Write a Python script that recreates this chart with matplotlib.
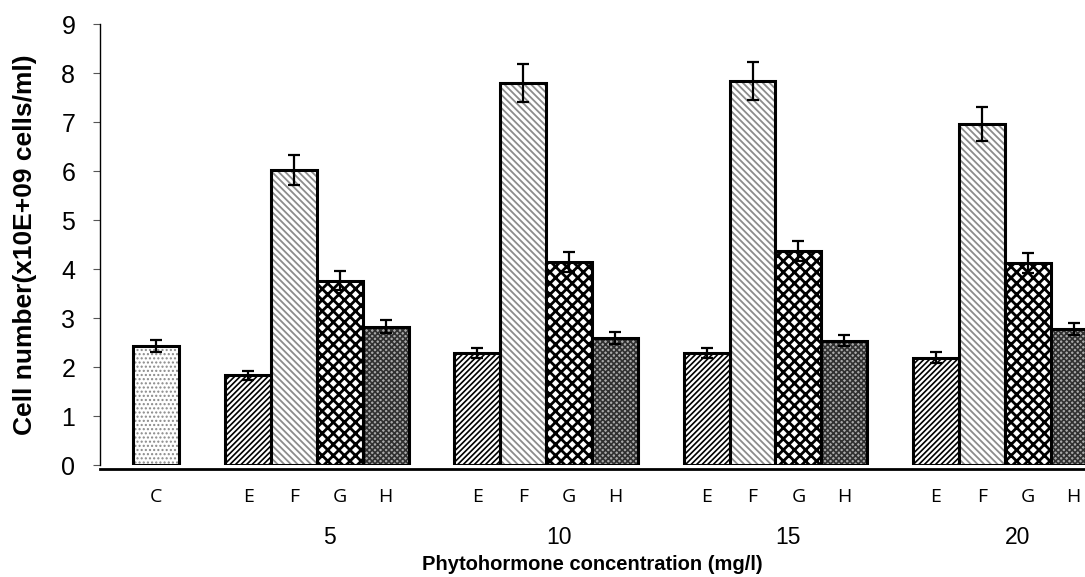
import matplotlib
matplotlib.use("Agg")
import matplotlib.pyplot as plt

# control plus four treatments (E-H) at each concentration
control_value = 2.43
control_err = 0.12

concentrations = ["5", "10", "15", "20"]
treatments = ["E", "F", "G", "H"]

# values[treatment] -> one value per concentration
values = {
    "E": [1.84, 2.29, 2.29, 2.20],
    "F": [6.03, 7.80, 7.84, 6.96],
    "G": [3.77, 4.15, 4.37, 4.13],
    "H": [2.83, 2.60, 2.54, 2.78],
}
errors = {
    "E": [0.09, 0.11, 0.11, 0.11],
    "F": [0.30, 0.39, 0.39, 0.35],
    "G": [0.19, 0.20, 0.21, 0.20],
    "H": [0.14, 0.12, 0.11, 0.13],
}

# fill style per series: (hatch, hatch colour, face colour, hatch width)
styles = {
    "C": ("....", "#8a8a8a", "white", 1.0),
    "E": ("//////", "black", "white", 1.2),
    "F": ("\\\\\\\\\\", "#8c8c8c", "white", 1.3),
    "G": ("xxx", "black", "white", 2.0),
    "H": ("xxxxxx", "#303030", "#a8a8a8", 1.2),
}

plt.rcParams["font.family"] = ["Liberation Sans", "DejaVu Sans"]

fig = plt.figure(figsize=(10.85, 5.77), dpi=100)
ax = fig.add_axes([99.5 / 1085, 1 - 465.3 / 577, 1 - 99.5 / 1085, 441 / 577])


def draw_bar(x, h, err, key):
    hatch, hcol, face, hlw = styles[key]
    with plt.rc_context({"hatch.linewidth": hlw}):
        ax.bar(x, h, width=1.0, color=face, edgecolor=hcol, hatch=hatch, linewidth=0)
    ax.bar(x, h, width=1.0, fill=False, edgecolor="black", linewidth=2.2)
    ax.errorbar(x, h, yerr=err, fmt="none", ecolor="black",
                elinewidth=1.6, capsize=4.6, capthick=1.6)


letter_pos = [0]
letter_txt = ["C"]
draw_bar(0, control_value, control_err, "C")

group_mid = []
for gi, conc in enumerate(concentrations):
    start = 2 + gi * 5
    for ti, t in enumerate(treatments):
        x = start + ti
        draw_bar(x, values[t][gi], errors[t][gi], t)
        letter_pos.append(x)
        letter_txt.append(t)
    group_mid.append(start + 1.77)

ax.set_xlim(-1.24, 20.25)
ax.set_ylim(0, 9)
ax.set_yticks(range(0, 10))
ax.tick_params(axis="y", direction="out", length=5.4, width=0.8,
               color="#555555", pad=12, labelsize=18)
ax.set_xticks([])

for s in ["top", "right"]:
    ax.spines[s].set_visible(False)
ax.spines["left"].set_linewidth(1.0)
ax.spines["bottom"].set_position(("outward", 3))
ax.spines["bottom"].set_linewidth(2.0)

trans = ax.get_xaxis_transform()
for x, t in zip(letter_pos, letter_txt):
    ax.text(x, -31.7 / 441, t, transform=trans, ha="center", va="center",
            fontsize=14, family="Open Sans")
for x, c in zip(group_mid, concentrations):
    ax.text(x, -71.7 / 441, c, transform=trans, ha="center", va="center",
            fontsize=16.5)

fig.text(592 / 1085, 1 - 564 / 577, "Phytohormone concentration (mg/l)",
         ha="center", va="center", fontsize=14.5, fontweight="bold")
fig.text(25 / 1085, 1 - 245 / 577, "Cell number(x10E+09 cells/ml)",
         ha="center", va="center", rotation=90, fontsize=19, fontweight="bold")

fig.savefig("out.png", dpi=100)
